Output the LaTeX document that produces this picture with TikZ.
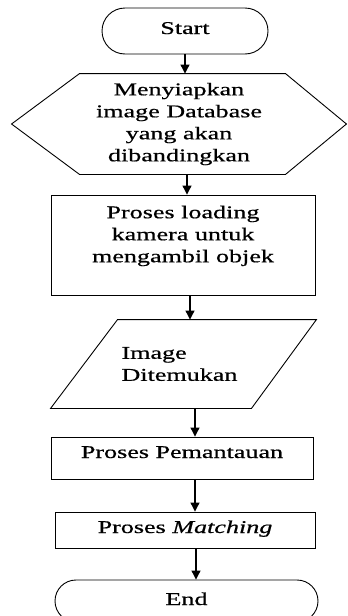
\documentclass[tikz,border=0pt]{standalone}
\usepackage{fontspec}
\setmainfont{Liberation Serif}[FakeStretch=1.45,FakeBold=0.6]
\usetikzlibrary{arrows.meta,calc}
\begin{document}
\begin{tikzpicture}[x=1pt,y=-1pt,line width=0.9pt,
  every node/.style={font=\fontsize{18}{22}\selectfont,inner sep=0pt},
  arr/.style={line width=1.1pt,-{Triangle[length=9pt,width=9pt]}},
  boxed/.style={draw}]
\useasboundingbox (0,0) rectangle (348,616);
\clip (0,0) rectangle (348,616);
% nodes
\node[boxed,rounded corners=23pt,minimum width=166pt,minimum height=46pt,text height=26pt,text depth=20pt] (start) at (185,31) {Start};
\node[minimum width=334pt,minimum height=100pt,align=center] (hex) at (179,124) {Menyiapkan\\image Database\\yang akan\\dibandingkan};
\draw ($(hex.north west)+(68,0)$) -- ($(hex.north east)+(-61,0)$) -- (hex.east) -- ($(hex.south east)+(-61,0)$) -- ($(hex.south west)+(68,0)$) -- (hex.west) -- cycle;
\node[boxed,minimum width=264pt,minimum height=100pt,align=center] (box1) at (183,245) {Proses loading\\kamera untuk\\mengambil objek\\\mbox{}};
\node[minimum width=265pt,minimum height=88pt,align=left,text width=124pt] (par) at (183.5,364) {Image\\Ditemukan};
\draw ($(par.north west)+(67,0)$) -- (par.north east) -- ($(par.south east)+(-65,0)$) -- (par.south west) -- cycle;
\node[boxed,minimum width=262pt,text height=21pt,text depth=21pt] (pem) at (182,458) {Proses Pemantauan};
\node[boxed,minimum width=260pt,text height=21pt,text depth=15pt] (mat) at (185,530) {Proses \textit{Matching}};
\node[boxed,rounded corners=21pt,minimum width=263pt,text height=25pt,text depth=17pt] (end) at (186.5,601) {End};
% connectors
\draw[arr] (start.south) -- (start.south |- hex.north);
\draw[arr] ([xshift=8pt]hex.south) -- ([xshift=8pt]hex.south |- box1.north);
\draw[arr] ([xshift=7pt]box1.south) -- ([xshift=7pt]box1.south |- par.north);
\draw[arr] ([xshift=11.5pt]par.south) -- ([xshift=11.5pt]par.south |- pem.north);
\draw[arr] ([xshift=13pt]pem.south) -- ([xshift=13pt]pem.south |- mat.north);
\draw[arr] ([xshift=11pt]mat.south) -- ([xshift=11pt]mat.south |- end.north);
\end{tikzpicture}
\end{document}
